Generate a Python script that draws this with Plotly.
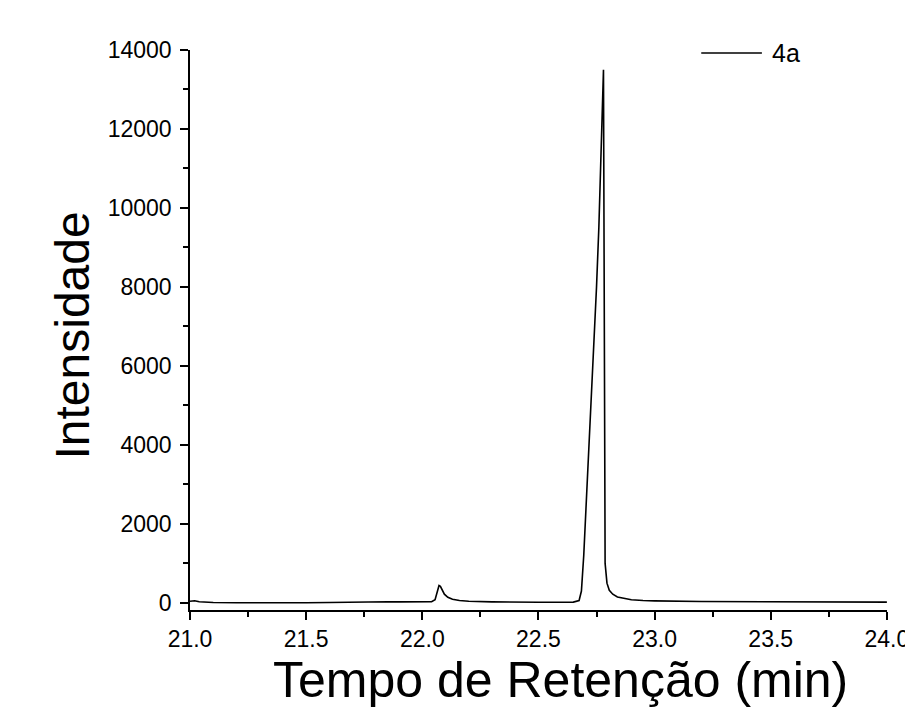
import plotly.graph_objects as go

# Retention time (min)
tempo = [21.00, 21.01, 21.02, 21.04, 21.07, 21.10, 21.20, 21.30, 21.40, 21.50,
         21.60, 21.70, 21.75, 21.80, 21.85, 21.90, 22.00, 22.04, 22.055, 22.065,
         22.072, 22.078, 22.085, 22.095, 22.11, 22.13, 22.16, 22.20, 22.30, 22.40,
         22.50, 22.60, 22.65, 22.675, 22.685, 22.695, 22.71, 22.725, 22.74, 22.75,
         22.76, 22.77, 22.78, 22.787, 22.795, 22.805, 22.82, 22.84, 22.87, 22.90,
         22.95, 23.00, 23.20, 23.40, 23.60, 23.80, 24.00]
# Intensity
intensidade = [40, 50, 55, 30, 15, 10, 5, 0, 5, 5,
               10, 20, 30, 40, 30, 25, 25, 30, 80, 300,
               440, 420, 320, 220, 140, 90, 60, 40, 25, 15,
               15, 15, 20, 60, 300, 1200, 3000, 4800, 6800, 8000,
               9500, 11500, 13500, 1000, 500, 320, 220, 150, 110, 80,
               60, 50, 35, 30, 25, 20, 20]

serie = "4a"
x_label = "Tempo de Retenção (min)"
y_label = "Intensidade"

FONT = "Liberation Sans, Arial, sans-serif"

fig = go.Figure()
fig.add_trace(go.Scatter(x=tempo, y=intensidade, mode="lines", name=serie,
                         showlegend=False,
                         line=dict(color="black", width=1.6)))

axis_common = dict(
    showline=True, linecolor="black", linewidth=1.5,
    ticks="outside", ticklen=8, tickwidth=1.5, tickcolor="black",
    showgrid=False, zeroline=False, mirror=False,
    ticklabeloverflow="allow",
    tickfont=dict(family=FONT, size=23, color="black"),
)

fig.update_xaxes(range=[21, 24.0005], dtick=0.5, tick0=21, tickformat=".1f",
                 minor=dict(ticks="outside", ticklen=5, dtick=0.25, tickwidth=1.5,
                            tickcolor="black"),
                 **axis_common)
fig.update_yaxes(range=[-180, 14000], dtick=2000, tick0=0, tickformat="d",
                 minor=dict(ticks="outside", ticklen=5, dtick=1000, tickwidth=1.5,
                            tickcolor="black"),
                 ticklabelstandoff=4,
                 **axis_common)

fig.add_annotation(text=x_label, xref="paper", yref="paper",
                   x=0.5316, y=-0.125, xanchor="center", yanchor="middle",
                   showarrow=False, font=dict(family=FONT, size=50, color="black"))
fig.add_annotation(text=y_label, xref="paper", yref="paper",
                   x=-0.168, y=0.49, xanchor="center", yanchor="middle",
                   textangle=-90, showarrow=False,
                   font=dict(family=FONT, size=48, color="black"))

# legend entry (line sample + label)
fig.add_shape(type="line", xref="paper", yref="paper",
              x0=0.7335, x1=0.8205, y0=0.9946, y1=0.9946,
              line=dict(color="black", width=1.6))
fig.add_annotation(text=serie, xref="paper", yref="paper",
                   x=0.832, y=0.9946, xanchor="left", yanchor="middle",
                   showarrow=False, font=dict(family=FONT, size=25, color="black"))

fig.update_layout(
    width=913, height=716,
    margin=dict(l=182, r=18, t=42, b=114),
    plot_bgcolor="white", paper_bgcolor="white",
    showlegend=False,
)

fig.write_html("out.html")
